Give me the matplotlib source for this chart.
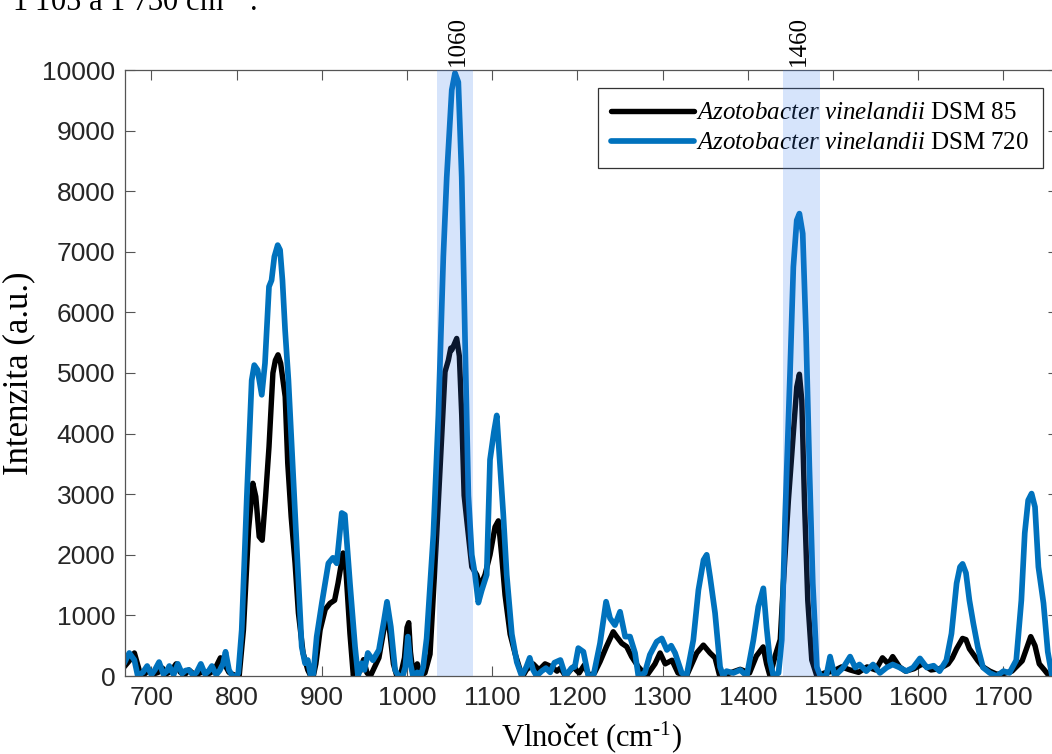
import matplotlib
matplotlib.use("Agg")
import matplotlib.pyplot as plt

plt.rcParams["mathtext.fontset"] = "custom"
plt.rcParams["mathtext.rm"] = "Liberation Serif"
plt.rcParams["mathtext.it"] = "Liberation Serif:italic"

# Raman spectra, wavenumber (cm-1) vs intensity (a.u.)
wn_dsm85 = [668, 674, 680, 686, 691, 697, 702, 708, 713, 718, 723, 729, 734, 739, 744, 749,
            754, 760, 765, 770, 775, 781, 787, 791, 795, 800, 803, 808, 814, 819, 822.5, 826.5,
            830, 834, 838, 842.6, 845.5, 848.6, 851.7, 857, 860, 864, 868.6, 872.5, 878, 883.5,
            887, 890, 893, 898, 904, 909.6, 915, 919, 925, 928, 933, 937, 941, 945, 949, 953,
            957, 962, 967, 972, 976, 980, 984, 988, 993, 997, 1000, 1002, 1004, 1007, 1012,
            1016, 1021, 1027, 1034.8, 1040.7, 1044.6, 1048.5, 1051.3, 1052.5, 1058.3, 1061.4,
            1064.2, 1067, 1072, 1076, 1081.8, 1085.7, 1091.5, 1097.4, 1103.3, 1107.2, 1111,
            1115, 1121, 1127, 1132.7, 1136, 1140, 1148, 1155, 1162, 1170, 1176, 1180, 1186,
            1195, 1202, 1208, 1214, 1220, 1226.5, 1234, 1242, 1246, 1252, 1257.8, 1263.6,
            1271.5, 1281, 1291, 1297, 1303, 1311, 1318, 1328, 1340, 1347.8, 1355.6, 1361.5,
            1367, 1379, 1391, 1402, 1410, 1418, 1422, 1426, 1432, 1438, 1441.7, 1447.6, 1453.4,
            1457.4, 1460.5, 1463.3, 1466.4, 1470.3, 1475, 1481, 1490, 1500, 1510, 1520, 1530,
            1540, 1550, 1558, 1565, 1570, 1578, 1585, 1595, 1605, 1615, 1625, 1635, 1640, 1645,
            1652, 1656, 1660, 1665, 1670, 1676, 1684, 1692, 1700, 1710, 1715, 1722, 1727, 1732,
            1737, 1742, 1748, 1752, 1757, 1764]
int_dsm85 = [150, 250, 380, 80, 20, 100, 30, 60, 130, 40, 80, 200, 60, 20, 100, 40,
             30, 70, 20, 60, 130, 300, 165, 60, 30, 0, 0, 760, 2410, 3180, 2960, 2300,
             2240, 2960, 3780, 5000, 5210, 5300, 5160, 4610, 3510, 2630, 1860, 1040, 380, 100,
             0, 0, 200, 760, 1100, 1200, 1250, 1530, 2030, 1810, 700, 0, 180, 80, 270, 50,
             0, 150, 300, 700, 1050, 700, 200, 0, 50, 300, 800, 880, 400, 50, 200,
             0, 50, 360, 2330, 3970, 5020, 5210, 5410, 5380, 5570, 5280,
             4300, 2980, 2330, 1800, 1670, 1480, 1670, 2000, 2460, 2560, 2000,
             1340, 690, 360, 100, 0, 100, 200, 100, 200, 150, 80, 130, 0,
             150, 50, 180, 0, 50, 236, 484, 730, 650, 540, 484, 320,
             150, 0, 200, 380, 200, 260, 50, 0, 380, 510, 380, 300,
             0, 50, 110, 50, 330, 480, 200, 0, 330, 600, 1530, 2900, 4000,
             4770, 4980, 4550, 2900, 1250, 264, 0, 50, 80, 150, 100, 60,
             150, 100, 300, 200, 320, 150, 80, 120, 200, 100, 120, 200, 300, 450,
             620, 600, 450, 350, 250, 150, 80, 30, 40, 80, 150, 250, 450, 650,
             500, 200, 100, 30, 0, 0]

wn_dsm720 = [668, 674, 680, 684, 690, 695, 700, 704, 709, 714, 718, 721, 726, 731, 736, 740,
             744, 749, 753, 758, 763, 767, 771, 776, 780, 784, 787, 791, 795, 800, 802, 806,
             812, 817.7, 820.7, 824.6, 829.5, 833.3, 838, 841, 844.3, 848.2, 851, 853.8, 856.9,
             860.8, 864.7, 868.6, 872.5, 876.4, 880.3, 883.5, 887, 890, 894, 900, 907.7, 913,
             917.5, 923.4, 927, 933, 939, 942.5, 946.8, 950, 954, 960, 967, 973, 976.5, 981,
             986, 990, 995, 998, 1001, 1004, 1007, 1012, 1016, 1019, 1023, 1030.9, 1036.8,
             1042.6, 1046.6, 1052.5, 1056.3, 1060.2, 1064.2, 1068, 1072, 1076, 1079.8, 1083.7,
             1087.6, 1093.5, 1097.4, 1102, 1105.3, 1108.4, 1113, 1117, 1123, 1128.8, 1134.6,
             1140, 1144, 1148, 1152, 1158, 1163, 1168, 1173, 1180, 1186, 1193, 1197, 1201,
             1207, 1212.8, 1218.7, 1226.5, 1233.6, 1238.3, 1244, 1250, 1256, 1261.7, 1267.6,
             1271.5, 1279, 1285, 1293, 1299, 1305, 1310, 1314.6, 1322.4, 1328, 1336, 1342,
             1348, 1351.7, 1355.6, 1361.5, 1367.4, 1371, 1375, 1383, 1391, 1398.7, 1406.5,
             1412.3, 1418.2, 1422, 1426, 1430, 1436, 1439.8, 1443.7, 1449.5, 1453.4, 1457.4,
             1460.5, 1464.4, 1468.3, 1472.2, 1476.2, 1481, 1485, 1492, 1496.5, 1502, 1512,
             1520, 1526, 1531, 1539, 1547, 1555, 1563, 1570, 1578, 1586, 1594, 1602, 1610,
             1618, 1625, 1633, 1639, 1645, 1649, 1652, 1656, 1660, 1664.6, 1670, 1676, 1684,
             1692, 1700, 1707, 1715, 1721, 1725, 1729, 1733, 1737, 1741, 1747, 1752, 1757, 1764]
int_dsm720 = [210, 380, 264, 0, 60, 165, 20, 100, 230, 30, 80, 165, 20, 200, 40, 90,
              100, 10, 60, 200, 30, 80, 165, 20, 90, 200, 400, 100, 0, 0, 50, 760,
              2960, 4880, 5130, 5050, 4640, 5160, 6425, 6530, 6920, 7110, 7030, 6530, 5710,
              4880, 3780, 2690, 1580, 484, 210, 264, 0, 30, 650, 1200, 1860, 1950,
              1860, 2690, 2660, 1530, 480, 0, 210, 100, 380, 260, 430, 920, 1225, 810,
              100, 0, 0, 150, 650, 200, 0, 60, 0, 150, 620, 2330, 4300,
              6920, 8230, 9670, 9950, 9800, 8230, 5600, 2980, 2000, 1670, 1210,
              1410, 1670, 3570, 4030, 4300, 3640, 2660, 1670, 690, 230, 0,
              150, 300, 100, 0, 80, 130, 60, 220, 264, 0, 130, 154, 460,
              400, 0, 0, 540, 1226, 952, 840, 1060, 650, 650, 380,
              0, 50, 350, 566, 620, 430, 500, 380, 50, 0, 594, 1420,
              1914, 2000, 1640, 1040, 150, 0, 80, 50, 100, 0, 594,
              1144, 1447, 800, 250, 0, 50, 594, 2600, 5000, 6750, 7520,
              7630, 7300, 5650, 3450, 1530, 150, 0, 0, 320, 0, 140,
              320, 140, 190, 80, 190, 50, 140, 190, 140, 80, 140, 290, 140,
              170, 80, 260, 700, 1530, 1800, 1850, 1700, 1250, 870, 470, 140, 50,
              0, 80, 50, 260, 1250, 2360, 2900, 3010, 2790, 1800, 1200, 400, 0, 0]

highlight_bands = [(1035, 1077), (1441, 1485)]
highlight_labels = [1060, 1460]
series_labels = [r"$\it{Azotobacter\ vinelandii}$ DSM 85",
                 r"$\it{Azotobacter\ vinelandii}$ DSM 720"]

fig = plt.figure(figsize=(10.52, 7.54), dpi=100)
ax = fig.add_axes([125 / 1052, 78 / 754, 933 / 1052, 606 / 754])

ax.plot(wn_dsm85, int_dsm85, color="black", lw=3.9, label=series_labels[0],
        solid_joinstyle="round", solid_capstyle="round")
ax.plot(wn_dsm720, int_dsm720, color="#0072BD", lw=4.1, label=series_labels[1],
        solid_joinstyle="round", solid_capstyle="round")

for lo, hi in highlight_bands:
    ax.axvspan(lo, hi, color=(0.2, 0.47, 0.92), alpha=0.2, lw=0, zorder=10)

ax.set_xlim(669, 1764)
ax.set_ylim(0, 10000)
ax.set_xticks(range(700, 1800, 100))
ax.set_yticks(range(0, 10001, 1000))
ax.tick_params(direction="in", length=7, width=0.8, color="#555555", top=True, right=True,
               labelsize=19, labelcolor="#262626", pad=7)
for lab in ax.get_xticklabels() + ax.get_yticklabels():
    lab.set_fontfamily("Liberation Sans")
for sp in ax.spines.values():
    sp.set_color("#555555")
    sp.set_linewidth(0.9)

top = ax.secondary_xaxis("top")
top.set_xticks(highlight_labels)
top.set_xticklabels([str(v) for v in highlight_labels], rotation=90,
                    fontfamily="Liberation Serif", fontsize=18)
top.tick_params(length=0, pad=3)
top.spines["top"].set_visible(False)

ax.set_xlabel(r"Vlnočet (cm$^{\text{-1}}$)", fontfamily="Liberation Serif", fontsize=22,
              labelpad=7)
ax.set_ylabel("Intenzita (a.u.)", fontfamily="Liberation Serif", fontsize=25, labelpad=5)

leg = ax.legend(loc="upper right", bbox_to_anchor=(0.984, 0.970), borderaxespad=0,
                prop={"family": "Liberation Serif", "size": 18}, handlelength=3.3,
                handletextpad=0.1, labelspacing=0.3, fancybox=False, framealpha=1,
                edgecolor="#333333", borderpad=0.55)
leg.get_frame().set_linewidth(0.9)

fig.text(0.011, 1 - 11 / 754, r"1 105 a 1 730 cm$^{\text{-1}}$ .", fontfamily="Liberation Serif",
         fontsize=22, va="baseline", ha="left")

fig.savefig("out.png", dpi=100)
